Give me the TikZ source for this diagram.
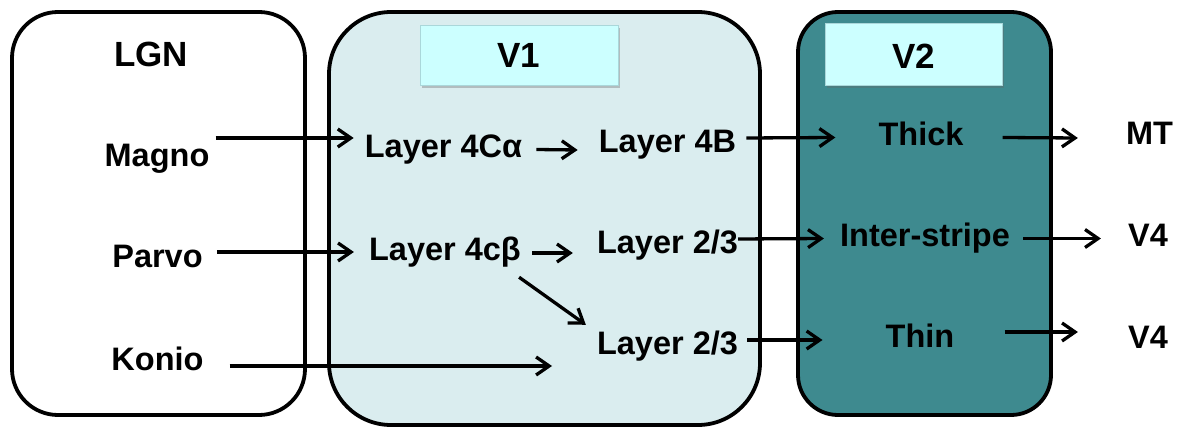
\documentclass[tikz,border=0pt]{standalone}
\usepackage{fontspec}
\setmainfont{Liberation Sans}
\usetikzlibrary{arrows.meta,shadows}

\definecolor{vonefill}{RGB}{218,237,239}
\definecolor{vtwofill}{RGB}{62,138,143}
\definecolor{titlefill}{RGB}{204,255,255}
\definecolor{titleedge}{RGB}{170,215,218}

\tikzset{
  area/.style={draw=black, line width=3.8pt},
  titlebox/.style={fill=titlefill, draw=titleedge, line width=0.8pt,
    drop shadow={shadow xshift=2pt, shadow yshift=-3pt, opacity=0.35, fill=black!60}},
  titletext/.style={font=\fontsize{35}{40}\selectfont\bfseries, inner sep=0pt, anchor=base},
  lbl/.style={font=\fontsize{32.5}{38}\selectfont\bfseries, inner sep=0pt, anchor=base,
    text height=24pt, text depth=7pt},
  arr/.style={line width=3.3pt, -{Straight Barb[length=13pt,width=18pt,line width=3.3pt]}},
}

\begin{document}
\begin{tikzpicture}[x=1pt, y=-1pt]
\useasboundingbox (0,0) rectangle (1190,430);

% the three areas
\draw[area, fill=white, rounded corners=46pt] (12,12) rectangle (305,415);
\draw[area, fill=vonefill, rounded corners=62pt] (329,12) rectangle (760,425);
\draw[area, fill=vtwofill, rounded corners=40pt] (798,12) rectangle (1051,415);

% title plates
\fill[titlebox] (420,25) rectangle (618,85);
\fill[titlebox] (825,23) rectangle (1002,85);

% titles
\node[titletext] (lgn) at (151,67) {LGN};
\node[titletext] (vone) at (519,68) {V1};
\node[titletext] (vtwo) at (913.5,69) {V2};

% LGN streams
\node[lbl] (magno) at (157,167) {Magno};
\node[lbl] (parvo) at (157.5,267) {Parvo};
\node[lbl] (konio) at (157.5,370) {Konio};

% V1 layers
\node[lbl] (l4ca) at (443.5,158) {Layer 4Cα};
\node[lbl] (l4b)  at (667.5,153) {Layer 4B};
\node[lbl] (l4cb) at (445,260) {Layer 4cβ};
\node[lbl] (l23a) at (667.5,253) {Layer 2/3};
\node[lbl] (l23b) at (667.5,354) {Layer 2/3};

% V2 stripes
\node[lbl] (thick) at (921,146) {Thick};
\node[lbl] (inter) at (925,247) {Inter-stripe};
\node[lbl] (thin)  at (920,347) {Thin};

% targets
\node[lbl] (mt)  at (1149.5,145) {MT};
\node[lbl] (v4a) at (1148,247) {V4};
\node[lbl] (v4b) at (1148,348) {V4};

\coordinate (konioend) at (552,366);

% magnocellular pathway
\draw[arr] ([xshift=6pt,yshift=20.5pt]magno.east) -- ([xshift=-11pt,yshift=11.5pt]l4ca.west);
\draw[arr] ([xshift=14pt]l4ca.east) -- ([xshift=-21pt,yshift=-5.5pt]l4b.west);
\draw[arr] ([xshift=10pt,yshift=6.5pt]l4b.east) -- ([xshift=-43pt]thick.west);
\draw[arr] ([xshift=39pt]thick.east) -- ([xshift=-48pt,yshift=-1.5pt]mt.west);

% parvocellular pathway
\draw[arr] ([xshift=14pt,yshift=6.5pt]parvo.east) -- ([xshift=-15pt,yshift=-0.5pt]l4cb.west);
\draw[arr] ([xshift=11pt,yshift=-1.5pt]l4cb.east) -- ([xshift=-24pt,yshift=-8.5pt]l23a.west);
\draw[arr] ([yshift=5.5pt]l23a.east) -- ([xshift=-16pt]inter.west);
\draw[arr] ([xshift=13pt]inter.east) -- ([xshift=-27pt]v4a.west);
\draw[arr] ([xshift=-2pt,yshift=-10pt]l4cb.south east) -- ([xshift=-11pt,yshift=5pt]l23b.north west);

% koniocellular pathway
\draw[arr] ([xshift=26pt,yshift=-4.5pt]konio.east) -- (konioend);
\draw[arr] ([xshift=9pt,yshift=5.5pt]l23b.east) -- ([xshift=-63pt,yshift=-1.5pt]thin.west);
\draw[arr] ([xshift=50pt,yshift=6.5pt]thin.east) -- ([xshift=-50pt,yshift=7.5pt]v4b.west);
\end{tikzpicture}
\end{document}
